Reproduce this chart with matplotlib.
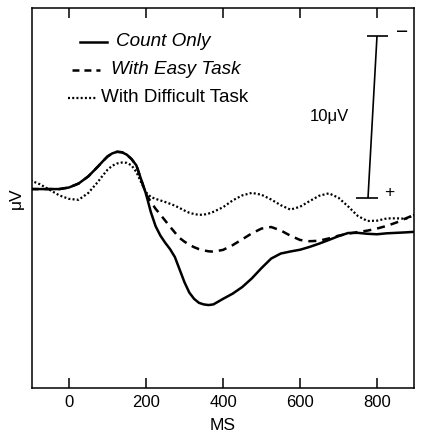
import matplotlib
matplotlib.use("Agg")
import matplotlib.pyplot as plt

plt.rcParams['font.family'] = ['Liberation Sans', 'DejaVu Sans']

# Time axis (ms)
time_ms = [-100, -75, -50, -25, 0, 25, 50,
           75, 87.5, 100, 112.5, 125, 137.5, 150, 162.5, 175, 187.5, 200, 212.5,
           225, 237.5, 250, 262.5, 275, 287.5, 300, 312.5, 325, 337.5, 350, 362.5, 375,
           400, 425, 450, 475, 500, 525, 550, 575, 600, 625, 650, 675, 700, 725,
           750, 775, 800, 825, 850, 875, 900]

# Amplitudes in microvolts (negative plotted upward)
count_only = [0.0, 0.0, 0.0, 0.0, -0.1, -0.35, -0.8,
              -1.42, -1.75, -2.06, -2.26, -2.36, -2.33, -2.18, -1.9, -1.5, -0.6, 0.3, 1.45,
              2.35, 2.95, 3.4, 3.8, 4.3, 5.1, 5.9, 6.55, 6.95, 7.2, 7.3, 7.34, 7.3,
              6.95, 6.62, 6.2, 5.65, 5.0, 4.4, 4.08, 3.95, 3.84, 3.66, 3.45, 3.22, 2.98, 2.78,
              2.77, 2.83, 2.86, 2.8, 2.77, 2.74, 2.7]
easy_task = [0.0, 0.0, 0.0, 0.0, -0.1, -0.35, -0.8,
             -1.42, -1.75, -2.06, -2.26, -2.36, -2.33, -2.18, -1.9, -1.5, -0.6, 0.32, 0.8,
             1.25, 1.62, 2.0, 2.38, 2.75, 3.1, 3.33, 3.52, 3.68, 3.8, 3.88, 3.94, 3.96,
             3.85, 3.55, 3.18, 2.8, 2.5, 2.4, 2.62, 2.95, 3.22, 3.3, 3.27, 3.12, 2.95, 2.82,
             2.72, 2.63, 2.5, 2.33, 2.12, 1.85, 1.6]
difficult_task = [-0.55, -0.3, 0.05, 0.4, 0.62, 0.68, 0.25,
                  -0.45, -0.85, -1.22, -1.48, -1.62, -1.68, -1.66, -1.5, -1.08, -0.42, 0.2, 0.5,
                  0.62, 0.72, 0.82, 0.93, 1.05, 1.2, 1.36, 1.5, 1.58, 1.63, 1.62, 1.55, 1.44,
                  1.15, 0.72, 0.4, 0.24, 0.36, 0.66, 1.02, 1.3, 1.12, 0.76, 0.42, 0.27, 0.55, 1.1,
                  1.7, 2.02, 2.0, 1.86, 1.85, 1.88, 1.6]

x_ticks = [0, 200, 400, 600, 800]
legend_labels = ["Count Only", "With Easy Task", "With Difficult Task"]

fig = plt.figure(figsize=(4.21, 4.37), dpi=100)
ax = fig.add_axes([32/421, 1-388/437, (414-32)/421, (388-8)/437])

lw = 1.8
solid_style = '-'
dash_style = (0, (5.8/lw, 4.3/lw))
dot_style = (0, (0.9, 1.0))

ax.plot(time_ms, count_only, color='black', lw=lw, ls=solid_style, solid_joinstyle='round')
ax.plot(time_ms, easy_task, color='black', lw=lw, ls=dash_style)
ax.plot(time_ms, difficult_task, color='black', lw=1.6, ls=dot_style)

ax.set_xlim(-96, 896)
ax.set_ylim(12.59, -11.46)

ax.set_xticks(x_ticks)
ax.set_xticklabels([str(t) for t in x_ticks], fontsize=12)
ax.set_yticks([])
ax.tick_params(axis='x', direction='in', length=7, width=1.1, pad=5, top=True)
for s in ax.spines.values():
    s.set_linewidth(1.1)

ax.set_xlabel("MS", fontsize=12.5, labelpad=6)
ax.set_ylabel("μV", fontsize=12.5, labelpad=6)

# Legend drawn by hand (axes pixel positions)
def px2ax(px, py):
    return ((px - 32) / (414 - 32), (388 - py) / (388 - 8))

def legline(x0, x1, y, ls, lwid):
    a0 = px2ax(x0, y); a1 = px2ax(x1, y)
    ax.plot([a0[0], a1[0]], [a0[1], a1[1]], transform=ax.transAxes, color='black',
            lw=lwid, ls=ls, clip_on=False)

legline(80, 107, 42, solid_style, lw)
legline(72, 100, 70, (0, (5.0/lw, 3.6/lw)), lw)
legline(68, 97, 98, dot_style, 1.6)
for (tx, ty, lab, st) in [(116, 42, legend_labels[0], 'italic'),
                          (111, 70, legend_labels[1], 'italic'),
                          (101, 98, legend_labels[2], 'normal')]:
    a = px2ax(tx, ty)
    ax.text(a[0], a[1], lab, transform=ax.transAxes, fontsize=13.6, style=st,
            ha='left', va='center')

# Scale bar
def bar(x0, y0, x1, y1, lwid=1.2):
    a0 = px2ax(x0, y0); a1 = px2ax(x1, y1)
    ax.plot([a0[0], a1[0]], [a0[1], a1[1]], transform=ax.transAxes, color='black',
            lw=lwid, clip_on=False, solid_capstyle='butt')

bar(377, 36, 368, 198)
bar(367, 36, 388, 36)
bar(356, 198, 378, 198)
a = px2ax(402, 32)
ax.text(a[0], a[1], "−", transform=ax.transAxes, fontsize=15, ha='center', va='center')
a = px2ax(389, 192)
ax.text(a[0], a[1], "+", transform=ax.transAxes, fontsize=12.5, ha='center', va='center')
a = px2ax(349, 117)
ax.text(a[0], a[1], "10μV", transform=ax.transAxes, fontsize=12, ha='right', va='center')

fig.savefig("out.png", dpi=100)
